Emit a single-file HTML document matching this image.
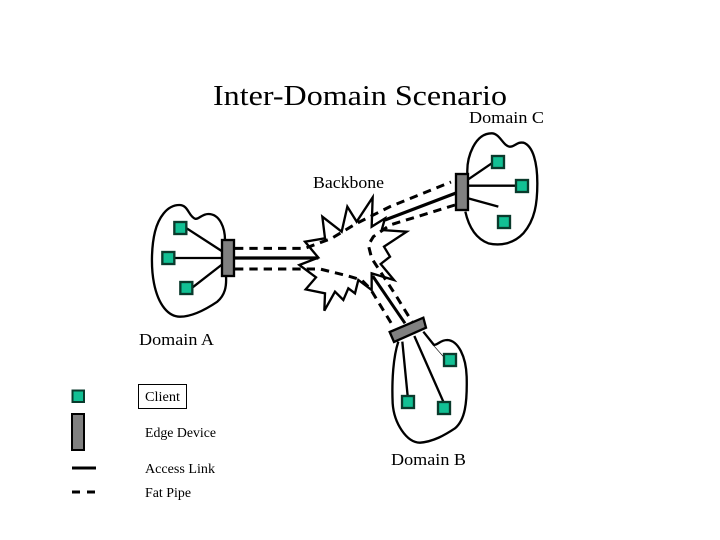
<!DOCTYPE html>
<html>
<head>
<meta charset="utf-8">
<style>
html,body{margin:0;padding:0;background:#fff;width:720px;height:540px;overflow:hidden}
svg{display:block}
text{font-family:"Liberation Serif",serif;fill:#000}
.b{fill:none;stroke:#000;stroke-width:7;stroke-linejoin:round}
.l{stroke:#000;stroke-width:7;fill:none}
.m{stroke:#000;stroke-width:10;fill:none}
.d{stroke:#000;stroke-width:9;fill:none;stroke-dasharray:25 18}
.s{fill:#12c094;stroke:#0a3a2c;stroke-width:7}
.e{fill:#808080;stroke:#000;stroke-width:7}
</style>
</head>
<body>
<svg width="720" height="540" viewBox="0 0 720 540" xmlns="http://www.w3.org/2000/svg">
<rect width="720" height="540" fill="#fff"/>
<text x="213" y="105" font-size="29" textLength="294" lengthAdjust="spacingAndGlyphs">Inter-Domain Scenario</text>
<text x="469" y="123" font-size="17" textLength="75" lengthAdjust="spacingAndGlyphs">Domain C</text>
<text x="313" y="188" font-size="17" textLength="71" lengthAdjust="spacingAndGlyphs">Backbone</text>
<text x="139" y="345" font-size="17" textLength="75" lengthAdjust="spacingAndGlyphs">Domain A</text>
<text x="391" y="465" font-size="17" textLength="75" lengthAdjust="spacingAndGlyphs">Domain B</text>

<!-- Backbone and fat pipes -->
<g transform="translate(290 190) scale(.33333)">
<path class="b" style="stroke-linejoin:miter" d="M85 203L45 155L105 145L97 80L155 125L172 50L200 95L248 22L245 110L285 85L275 120L350 125L282 170L300 200L272 222L312 270L245 250L245 300L205 270L195 310L175 295L160 330L135 305L103 362L105 310L47 298L78 262L28 225Z"/>
<path class="d" d="M-165 175H45L125 145L200 100L300 50L483 -24"/>
<path class="d" d="M495 45L300 105L250 140L235 165L245 205L320 320L375 410"/>
<path class="d" d="M-165 237H90L175 258L215 270L240 295L310 410"/>
<path class="m" d="M498 9L285 90"/>
<path class="m" d="M-165 204H85"/>
<path class="m" style="stroke-width:9" d="M248 258L345 400"/>
</g>

<!-- Domain A -->
<g transform="translate(130 190) scale(.33333)">
<path class="b" d="M285 150C285 115 270 72 235 72C215 72 205 90 195 86C175 78 175 45 148 45C110 45 85 85 75 125C65 165 62 230 72 280C85 345 115 380 150 380C185 380 225 360 262 335C285 315 290 290 288 258"/>
<path class="l" d="M170 115L278 185M132 204H278M188 292L278 222"/>
<rect class="e" x="276" y="150" width="36" height="108"/>
<rect class="s" x="133" y="96" width="36" height="36"/>
<rect class="s" x="97" y="186" width="36" height="36"/>
<rect class="s" x="151" y="276" width="36" height="36"/>
</g>

<!-- Domain C -->
<g transform="translate(360 120) scale(.33333)">
<path class="b" d="M322 160C320 110 345 40 395 40C420 40 430 80 450 80C465 80 470 65 490 68C520 78 532 130 532 190C532 250 525 300 490 340C460 372 420 378 385 370C345 355 325 315 316 275"/>
<path class="l" d="M325 178L398 128M325 197H468M325 235L415 260"/>
<rect class="e" x="288" y="162" width="36" height="108"/>
<rect class="s" x="396" y="108" width="36" height="36"/>
<rect class="s" x="468" y="180" width="36" height="36"/>
<rect class="s" x="414" y="288" width="36" height="36"/>
</g>

<!-- Domain B -->
<g transform="translate(370 300) scale(.33333)">
<path class="b" d="M85 125C70 170 65 240 68 310C72 370 110 428 150 428C190 425 225 405 255 385C285 360 292 310 290 230C288 170 265 122 232 120C210 120 205 135 190 135"/>
<path class="l" d="M97 125L113 288M133 108L220 305M160 95L192 135"/>
<path d="M185 130L222 172" stroke="#000" stroke-width="2" fill="none"/>
<path class="e" d="M59 96L160 53L168 83L72 126Z"/>
<rect class="s" x="222" y="162" width="36" height="36"/>
<rect class="s" x="96" y="288" width="36" height="36"/>
<rect class="s" x="204" y="306" width="36" height="36"/>
</g>

<!-- Legend -->
<rect x="72.500" y="390.500" width="11.500" height="11.500" fill="#12c094" stroke="#0a3a2c" stroke-width="2"/>
<rect x="72" y="414" width="12" height="36" fill="#808080" stroke="#000" stroke-width="2"/>
<path d="M72 468H96" stroke="#000" stroke-width="3"/>
<path d="M72 492H80M87 492H95" stroke="#000" stroke-width="3"/>
<rect x="138.500" y="384.500" width="48" height="24" fill="#fff" stroke="#000" stroke-width="1"/>
<text x="145" y="401" font-size="14" textLength="35" lengthAdjust="spacingAndGlyphs">Client</text>
<text x="145" y="437" font-size="14" textLength="71" lengthAdjust="spacingAndGlyphs">Edge Device</text>
<text x="145" y="473" font-size="14" textLength="70" lengthAdjust="spacingAndGlyphs">Access Link</text>
<text x="145" y="497" font-size="14" textLength="46" lengthAdjust="spacingAndGlyphs">Fat Pipe</text>
</svg>
</body>
</html>
